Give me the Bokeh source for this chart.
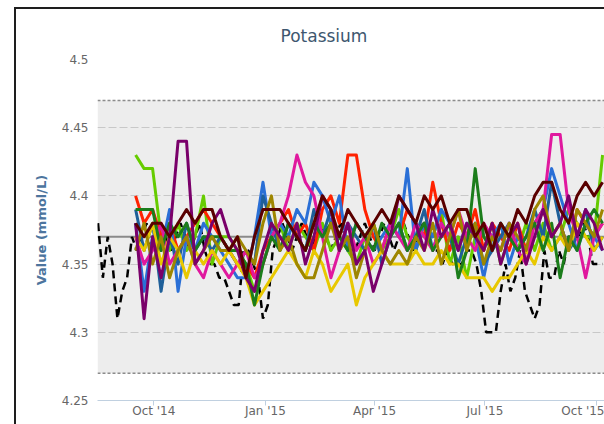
import pandas as pd
from bokeh.plotting import figure
from bokeh.layouts import column
from bokeh.models import Range1d, FixedTicker, BoxAnnotation, Span, DatetimeTickFormatter, NumeralTickFormatter, Div
from bokeh.embed import file_html
from bokeh.resources import INLINE

TITLE = "Potassium"
Y_LABEL = "Value (mmol/L)"
Y_TICKS = [4.25, 4.3, 4.35, 4.4, 4.45, 4.5]
X_TICK_DATES = ["2014-10-01", "2015-01-01", "2015-04-01", "2015-07-01", "2015-10-01"]
X_TICK_LABELS = ["Oct '14", "Jan '15", "Apr '15", "Jul '15", "Oct '15"]
X_START, X_END = "2014-08-15 14:00", "2015-10-07 14:00"
Y_START, Y_END = 4.25, 4.5
BAND_LOW, BAND_HIGH = 4.27, 4.47
MEDIAN = 4.37

# weekly sampled series (first sample date, 7-day cadence)
WEEKLY_START = "2014-09-16"
green = [4.43, 4.42, 4.42, 4.37, 4.36, 4.38, 4.36, 4.37, 4.40, 4.35, 4.37, 4.37, 4.36, 4.35, 4.33, 4.35, 4.37, 4.38, 4.36, 4.38,
         4.37, 4.36, 4.38, 4.36, 4.37, 4.36, 4.35, 4.37, 4.38, 4.36, 4.37, 4.39, 4.37, 4.36, 4.38, 4.37, 4.39, 4.35, 4.37, 4.34,
         4.37, 4.36, 4.38, 4.35, 4.37, 4.36, 4.38, 4.36, 4.38, 4.36, 4.37, 4.39, 4.38, 4.37, 4.37, 4.43]
red = [4.40, 4.38, 4.39, 4.37, 4.38, 4.36, 4.37, 4.38, 4.39, 4.38, 4.37, 4.36, 4.35, 4.35, 4.34, 4.36, 4.37, 4.38, 4.39, 4.37,
       4.38, 4.36, 4.39, 4.40, 4.38, 4.43, 4.43, 4.39, 4.37, 4.36, 4.38, 4.37, 4.39, 4.38, 4.37, 4.41, 4.38, 4.36, 4.38, 4.37,
       4.39, 4.36, 4.38, 4.37, 4.36, 4.38, 4.36, 4.38, 4.39, 4.37, 4.38, 4.36, 4.39, 4.38, 4.37, 4.38]
blue = [4.38, 4.33, 4.37, 4.36, 4.39, 4.33, 4.37, 4.36, 4.38, 4.37, 4.36, 4.35, 4.34, 4.34, 4.37, 4.41, 4.37, 4.38, 4.37, 4.39,
        4.38, 4.41, 4.40, 4.38, 4.40, 4.36, 4.38, 4.37, 4.36, 4.37, 4.38, 4.37, 4.42, 4.36, 4.38, 4.37, 4.39, 4.38, 4.36, 4.38,
        4.37, 4.34, 4.37, 4.38, 4.35, 4.37, 4.36, 4.38, 4.39, 4.42, 4.40, 4.38, 4.36, 4.38, 4.37, 4.36]
steel = [4.39, 4.36, 4.38, 4.33, 4.37, 4.35, 4.38, 4.36, 4.37, 4.36, 4.37, 4.36, 4.35, 4.36, 4.35, 4.40, 4.38, 4.36, 4.38, 4.37,
         4.36, 4.39, 4.37, 4.39, 4.36, 4.38, 4.37, 4.36, 4.38, 4.35, 4.37, 4.38, 4.36, 4.37, 4.39, 4.36, 4.38, 4.37, 4.35, 4.37,
         4.38, 4.35, 4.36, 4.37, 4.38, 4.36, 4.37, 4.39, 4.37, 4.41, 4.38, 4.36, 4.37, 4.39, 4.36, 4.37]
magenta = [4.37, 4.35, 4.36, 4.38, 4.35, 4.36, 4.37, 4.35, 4.34, 4.36, 4.35, 4.34, 4.35, 4.36, 4.34, 4.35, 4.37, 4.38, 4.40, 4.43,
           4.41, 4.40, 4.37, 4.34, 4.36, 4.38, 4.36, 4.37, 4.35, 4.36, 4.38, 4.37, 4.36, 4.38, 4.37, 4.36, 4.38, 4.37, 4.39, 4.37,
           4.36, 4.38, 4.37, 4.36, 4.38, 4.36, 4.35, 4.38, 4.39, 4.445, 4.445, 4.39, 4.37, 4.34, 4.37, 4.38]
yellow = [4.37, 4.36, 4.38, 4.35, 4.37, 4.36, 4.34, 4.36, 4.35, 4.36, 4.35, 4.36, 4.35, 4.34, 4.32, 4.33, 4.34, 4.35, 4.36, 4.35,
          4.34, 4.36, 4.35, 4.33, 4.34, 4.35, 4.32, 4.34, 4.35, 4.36, 4.35, 4.35, 4.35, 4.36, 4.35, 4.35, 4.36, 4.35, 4.35, 4.34,
          4.34, 4.34, 4.33, 4.34, 4.34, 4.35, 4.36, 4.35, 4.37, 4.36, 4.37, 4.36, 4.38, 4.37, 4.36, 4.37]
darkgreen = [4.39, 4.39, 4.39, 4.36, 4.38, 4.37, 4.38, 4.36, 4.37, 4.37, 4.37, 4.36, 4.36, 4.35, 4.32, 4.35, 4.37, 4.36, 4.38, 4.37,
             4.36, 4.38, 4.37, 4.38, 4.37, 4.36, 4.38, 4.37, 4.36, 4.38, 4.37, 4.38, 4.36, 4.37, 4.38, 4.36, 4.37, 4.38, 4.34, 4.36,
             4.42, 4.37, 4.36, 4.38, 4.37, 4.36, 4.37, 4.38, 4.36, 4.38, 4.34, 4.37, 4.36, 4.38, 4.39, 4.38]
olive = [4.36, 4.38, 4.35, 4.37, 4.34, 4.36, 4.37, 4.35, 4.36, 4.37, 4.36, 4.36, 4.37, 4.36, 4.35, 4.38, 4.40, 4.36, 4.37, 4.35,
         4.34, 4.34, 4.36, 4.38, 4.36, 4.37, 4.34, 4.36, 4.38, 4.36, 4.35, 4.36, 4.35, 4.37, 4.36, 4.38, 4.35, 4.37, 4.39, 4.36,
         4.38, 4.35, 4.37, 4.36, 4.38, 4.37, 4.36, 4.39, 4.40, 4.37, 4.38, 4.36, 4.39, 4.38, 4.37, 4.39]
purple = [4.38, 4.31, 4.37, 4.34, 4.37, 4.44, 4.44, 4.35, 4.36, 4.38, 4.39, 4.37, 4.36, 4.34, 4.33, 4.36, 4.38, 4.37, 4.36, 4.38,
          4.35, 4.37, 4.40, 4.39, 4.36, 4.38, 4.35, 4.36, 4.33, 4.35, 4.37, 4.40, 4.39, 4.38, 4.36, 4.39, 4.37, 4.38, 4.36, 4.38,
          4.37, 4.36, 4.38, 4.35, 4.37, 4.38, 4.35, 4.37, 4.39, 4.37, 4.38, 4.40, 4.37, 4.39, 4.38, 4.36]
maroon = [4.38, 4.37, 4.38, 4.38, 4.37, 4.38, 4.39, 4.38, 4.39, 4.39, 4.37, 4.36, 4.37, 4.34, 4.37, 4.39, 4.39, 4.39, 4.38, 4.37,
          4.36, 4.38, 4.40, 4.39, 4.37, 4.39, 4.38, 4.37, 4.38, 4.39, 4.38, 4.40, 4.39, 4.38, 4.40, 4.39, 4.40, 4.38, 4.39, 4.39,
          4.37, 4.38, 4.36, 4.38, 4.37, 4.39, 4.38, 4.40, 4.41, 4.41, 4.39, 4.38, 4.40, 4.41, 4.40, 4.41]

SERIES = [green, red, blue, steel, magenta, yellow, darkgreen, olive, purple, maroon]
COLORS = ["#66cc00", "#ff2200", "#2a6fd6", "#1f5f99", "#e0189e", "#e8c800", "#1b7d1b", "#9e8600", "#7a006a", "#5a0000"]

# reference (black dashed) series, 4-day cadence
REF_START_DATE = "2014-08-16"
reference = [4.38, 4.34, 4.37, 4.35, 4.31, 4.33, 4.34, 4.37, 4.36, 4.37,
             4.38, 4.36, 4.37, 4.38, 4.37, 4.36, 4.37, 4.38, 4.37, 4.36,
             4.37, 4.38, 4.36, 4.35, 4.35, 4.34, 4.34, 4.33, 4.32, 4.32,
             4.36, 4.36, 4.35, 4.34, 4.31, 4.32, 4.36, 4.37, 4.38, 4.37,
             4.36, 4.37, 4.38, 4.37, 4.36, 4.37, 4.38, 4.37, 4.36, 4.37,
             4.38, 4.37, 4.37, 4.36, 4.37, 4.38, 4.37, 4.36, 4.37, 4.38,
             4.37, 4.36, 4.37, 4.38, 4.37, 4.36, 4.37, 4.38, 4.37, 4.36,
             4.36, 4.35, 4.36, 4.35, 4.35, 4.35, 4.36, 4.36, 4.35, 4.33,
             4.30, 4.30, 4.30, 4.33, 4.35, 4.33, 4.34, 4.36, 4.33, 4.32,
             4.31, 4.32, 4.36, 4.34, 4.34, 4.36, 4.35, 4.37, 4.37, 4.37,
             4.38, 4.37, 4.35, 4.35, 4.35]

p = figure(width=588, height=415, x_axis_type="datetime", output_backend="svg", toolbar_location=None,
           x_range=Range1d(pd.Timestamp(X_START), pd.Timestamp(X_END)),
           y_range=Range1d(Y_START, Y_END),
           min_border_left=81, min_border_top=50, min_border_bottom=24, min_border_right=0)
p.margin = 0
p.outline_line_color = None
p.background_fill_color = "#ffffff"
p.border_fill_color = "#ffffff"

p.title.text = TITLE
p.title.align = "left"
p.title.offset = 183
p.title.text_font = "DejaVu Sans"
p.title.text_font_size = "17px"
p.title.text_font_style = "normal"
p.title.text_color = "#3e576f"
try:
    p.title.standoff = 28
except Exception:
    pass

band = BoxAnnotation(bottom=BAND_LOW, top=BAND_HIGH, fill_color="#ededed", fill_alpha=1.0, line_color=None, level="image")
p.add_layout(band)
for loc in (BAND_LOW, BAND_HIGH):
    p.add_layout(Span(location=loc, dimension="width", line_color="#8c8c8c", line_dash="3 2", line_width=1.5, level="underlay"))
p.add_layout(Span(location=MEDIAN, dimension="width", line_color="#8a8a8a", line_width=2, level="underlay"))

ref_dates = pd.date_range(REF_START_DATE, periods=len(reference), freq="4D")
p.line(ref_dates, reference, line_color="#000000", line_width=2.5, line_dash="8 5")
for vals, col in zip(SERIES, COLORS):
    dates = pd.date_range(WEEKLY_START, periods=len(vals), freq="7D")
    p.line(dates, vals, line_color=col, line_width=3, line_join="round")

# axes
tick_ms = [pd.Timestamp(d).value / 1e6 for d in X_TICK_DATES]
p.xaxis.ticker = FixedTicker(ticks=tick_ms)
fmt = "%b '%y"
p.xaxis.formatter = DatetimeTickFormatter(years=fmt, months=fmt, days=fmt, hours=fmt, minutes=fmt)
p.xaxis.major_label_overrides = {t: lab for t, lab in zip(tick_ms, X_TICK_LABELS)}
p.xaxis.axis_line_color = "#c0d0e0"
p.xaxis.major_tick_line_color = "#c0d0e0"
p.xaxis.major_tick_out = 5
p.xaxis.major_tick_in = 0
p.xaxis.minor_tick_line_color = None
p.xaxis.major_label_standoff = -2
p.xaxis.major_label_text_font = "DejaVu Sans"
p.xaxis.major_label_text_font_size = "12px"
p.xaxis.major_label_text_color = "#666666"

p.yaxis.ticker = FixedTicker(ticks=Y_TICKS)
p.yaxis.formatter = NumeralTickFormatter(format="0.[00]")
p.yaxis.axis_line_color = None
p.yaxis.major_tick_line_color = None
p.yaxis.minor_tick_line_color = None
p.yaxis.major_tick_out = 0
p.yaxis.major_tick_in = 0
p.yaxis.major_label_standoff = 9
p.yaxis.major_label_text_font = "DejaVu Sans"
p.yaxis.major_label_text_font_size = "12px"
p.yaxis.major_label_text_color = "#666666"
p.yaxis.axis_label = Y_LABEL
p.yaxis.axis_label_text_font = "DejaVu Sans"
p.yaxis.axis_label_text_font_size = "13px"
p.yaxis.axis_label_text_font_style = "bold"
p.yaxis.axis_label_text_color = "#4d759e"
p.yaxis.axis_label_standoff = 10

p.xgrid.visible = False
p.ygrid.grid_line_color = "#c8c8c8"
p.ygrid.grid_line_dash = "8 3"
p.ygrid.grid_line_width = 1

# chart container frame: a 2px top rule above the figure, and a left rule on the column
top_rule = Div(text="", width=588, height=2, margin=0, styles={"background-color": "#1e1e1e"})
layout = column(top_rule, p, spacing=0,
                styles={"margin-left": "14px", "margin-top": "7px", "border-left": "2px solid #1e1e1e"})

open("out.html", "w").write(file_html(layout, INLINE))
